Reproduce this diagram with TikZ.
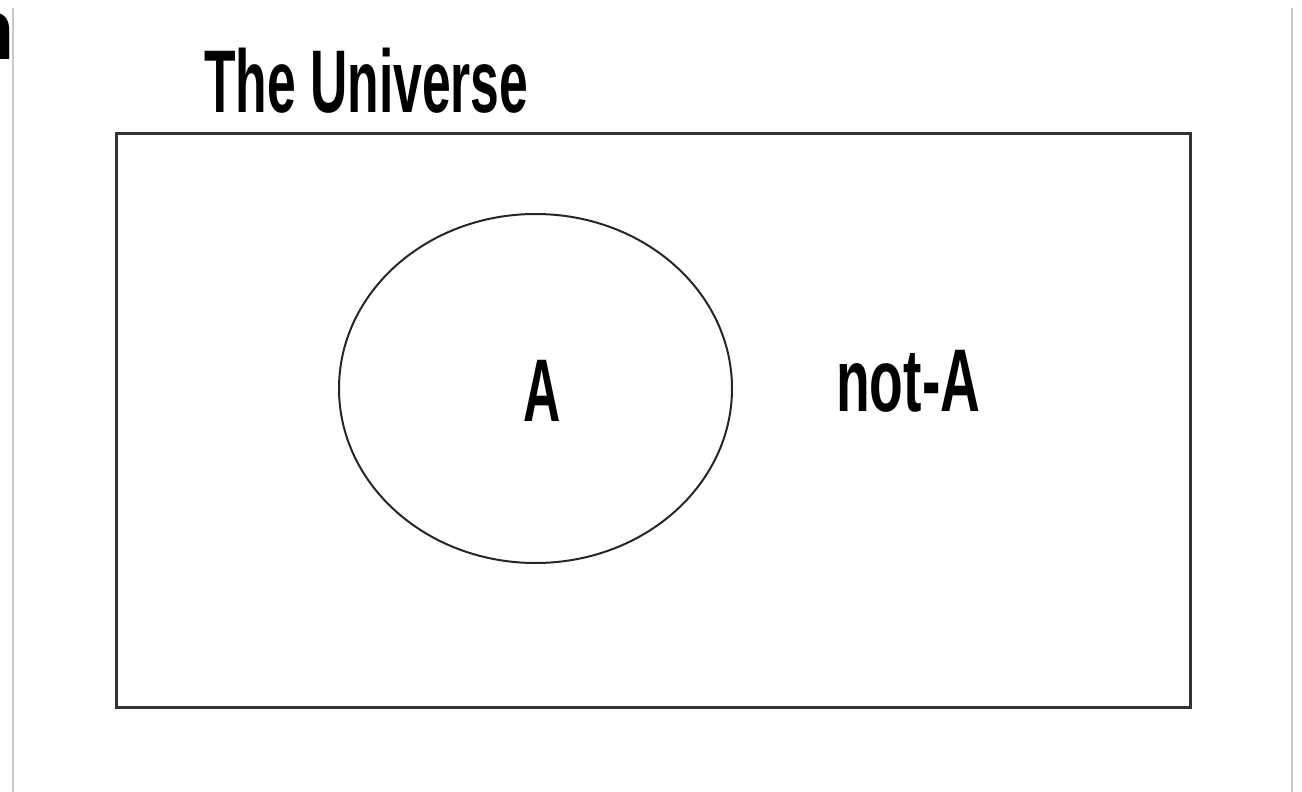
\documentclass[tikz,border=0pt]{standalone}
\usepackage{fontspec}
\newfontfamily\pixfont[FakeStretch=0.58]{Liberation Sans Bold}
\newfontfamily\pixwide[FakeStretch=0.62]{Liberation Sans Bold}
\newfontfamily\edgefont{Liberation Sans Bold}
\begin{document}
\begin{tikzpicture}[x=1pt,y=-1pt,
  lbl/.style={font=\pixfont\fontsize{89}{89}\selectfont, inner sep=0pt, text=black},
  frame/.style={draw=black!80, line width=3pt, outer sep=0pt},
  setA/.style={draw=black!85, line width=2pt},
  edge/.style={draw=black!22, line width=2pt}]
\useasboundingbox (0,0) rectangle (1302,792);
\clip (0,0) rectangle (1302,792);
% page edges
\draw[edge] (13,8) -- (13,792);
\draw[edge] (1292,8) -- (1292,792);
\node[anchor=base east, inner sep=0pt, font=\edgefont\fontsize{86}{86}\selectfont] (frag) at (15,60) {n};
% universe
\node[frame, rectangle, minimum width=1074pt, minimum height=574pt, anchor=north west] (U) at (116,133) {};
\node[lbl, anchor=base west] (title) at (204,112) {The Universe};
% set A
\draw[setA] (535.5,388.5) ellipse [x radius=196.5, y radius=174.5];
\coordinate (Ac) at (535.5,388.5);
\node[lbl, anchor=base] (A) at (542,421) {A};
\node[lbl, font=\pixwide\fontsize{89}{89}\selectfont, anchor=base west] (notA) at (836,411) {not-A};
\end{tikzpicture}
\end{document}
